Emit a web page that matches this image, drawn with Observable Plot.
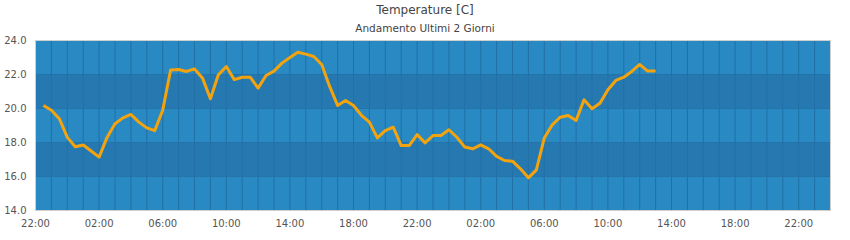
<!DOCTYPE html>
<html>
<head>
<meta charset="utf-8">
<script src="https://cdn.jsdelivr.net/npm/d3@7"></script>
<script src="https://cdn.jsdelivr.net/npm/@observablehq/plot@0.6"></script>
<style>
  html, body { margin: 0; padding: 0; background: #fff; }
  #wrap { width: 850px; font-family: "DejaVu Sans", sans-serif; }
  .title { height: 20px; line-height: 20px; text-align: center; font-size: 12px; color: #444; }
  .subtitle { height: 16px; line-height: 16px; text-align: center; font-size: 10.5px; color: #444; }
  svg { display: block; }
</style>
</head>
<body>
<div id="wrap">
  <div class="title">Temperature [C]</div>
  <div class="subtitle">Andamento Ultimi 2 Giorni</div>
  <div id="chart"></div>
</div>
<script>
// ---- data ----
const title = "Temperature [C]";
const subtitle = "Andamento Ultimi 2 Giorni";
const startTime = "2024-01-01T22:00:00Z";   // left edge of the axis
const endTime = "2024-01-04T00:00:00Z";     // right edge of the axis
const firstSample = "2024-01-01T22:30:00Z"; // first reading
const sampleMinutes = 30;                   // readings every half hour
const temperatures = [
  20.18, 19.9, 19.4, 18.3, 17.75, 17.85, 17.5, 17.14, 18.3, 19.1,
  19.45, 19.65, 19.2, 18.86, 18.7, 19.9, 22.27, 22.29, 22.18, 22.33,
  21.8, 20.57, 21.98, 22.47, 21.7, 21.84, 21.84, 21.2, 21.94, 22.2,
  22.67, 23.0, 23.31, 23.2, 23.06, 22.59, 21.3, 20.18, 20.47, 20.18,
  19.6, 19.2, 18.27, 18.7, 18.9, 17.82, 17.82, 18.47, 17.98, 18.41,
  18.41, 18.75, 18.31, 17.73, 17.63, 17.86, 17.63, 17.18, 16.94, 16.9,
  16.45, 15.92, 16.39, 18.27, 19.04, 19.49, 19.59, 19.3, 20.51, 19.98,
  20.31, 21.1, 21.65, 21.84, 22.18, 22.59, 22.2, 22.2
];
const yTicks = [14, 16, 18, 20, 22, 24];
const darkBands = [[16, 18], [20, 22]];
const xTickTimes = [
  "2024-01-01T22:00:00Z", "2024-01-02T02:00:00Z", "2024-01-02T06:00:00Z",
  "2024-01-02T10:00:00Z", "2024-01-02T14:00:00Z", "2024-01-02T18:00:00Z",
  "2024-01-02T22:00:00Z", "2024-01-03T02:00:00Z", "2024-01-03T06:00:00Z",
  "2024-01-03T10:00:00Z", "2024-01-03T14:00:00Z", "2024-01-03T18:00:00Z",
  "2024-01-03T22:00:00Z"
];

// ---- build ----
const t0 = new Date(startTime), t1 = new Date(endTime);
const s0 = new Date(firstSample).getTime();
const series = temperatures.map((v, i) => ({time: new Date(s0 + i * sampleMinutes * 60000), temp: v}));
const bands = darkBands.map(([a, b]) => ({y1: a, y2: b, x1: t0, x2: t1}));
const hourGrid = d3.utcHour.range(d3.utcHour.offset(t0, 1), t1);

const chart = Plot.plot({
  width: 850,
  height: 204,
  marginTop: 4,
  marginBottom: 30,
  marginLeft: 35,
  marginRight: 20,
  style: {fontFamily: "DejaVu Sans, sans-serif", fontSize: "10px", color: "#555", background: "#fff"},
  x: {type: "utc", domain: [t0, t1], ticks: xTickTimes.map(d => new Date(d)), tickFormat: d3.utcFormat("%H:%M"), tickSize: 0, tickPadding: 9, label: null},
  y: {domain: [14, 24], ticks: yTicks, tickFormat: d => d.toFixed(1), tickSize: 0, tickPadding: 9, label: null},
  marks: [
    Plot.frame({fill: "#2889c3"}),
    Plot.rect(bands, {x1: "x1", x2: "x2", y1: "y1", y2: "y2", fill: "#2679b0"}),
    Plot.ruleY([16, 18, 20, 22], {stroke: "#2473a9", strokeWidth: 1}),
    Plot.ruleX(hourGrid, {stroke: "#2270a6", strokeWidth: 1}),
    Plot.line(series, {x: "time", y: "temp", stroke: "#f3a30e", strokeWidth: 3, strokeLinejoin: "round", strokeLinecap: "butt"}),
    Plot.frame({stroke: "#cfcfcf", strokeWidth: 1})
  ]
});
document.getElementById("chart").appendChild(chart);
</script>
</body>
</html>
